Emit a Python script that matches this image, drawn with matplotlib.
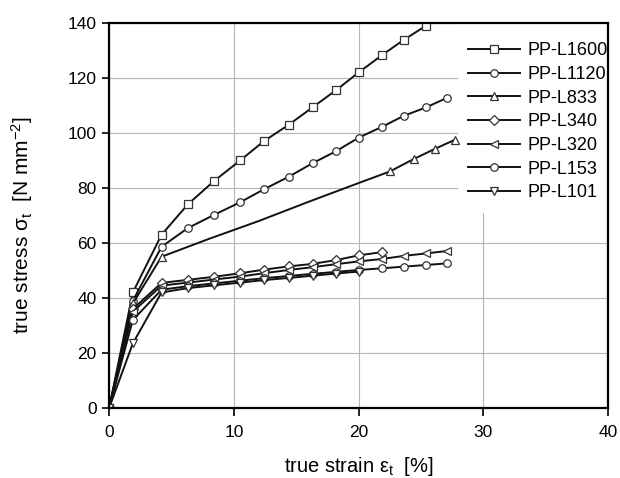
import matplotlib
matplotlib.use("Agg")
import matplotlib.pyplot as plt
from matplotlib.patches import Rectangle

plt.rcParams['font.family'] = ['Liberation Sans', 'DejaVu Sans']
plt.rcParams['mathtext.default'] = 'regular'

labels = ['PP-L1600', 'PP-L1120', 'PP-L833', 'PP-L340', 'PP-L320', 'PP-L153', 'PP-L101']
markers = ['s', 'o', '^', 'D', '<', 'o', 'v']

x_1600 = [0, 1.9, 4.2, 6.3, 8.4, 10.5, 12.4, 14.4, 16.3, 18.2, 20.0, 21.9, 23.6, 25.4]
y_1600 = [0, 42, 63, 74, 82.5, 90, 97, 103, 109.3, 115.6, 122, 128.4, 133.8, 139]

x_1120 = [0, 1.9, 4.2, 6.3, 8.4, 10.5, 12.4, 14.4, 16.3, 18.2, 20.0, 21.9, 23.6, 25.4, 27.1]
y_1120 = [0, 39, 58.6, 65.4, 70.2, 74.8, 79.5, 84.1, 89, 93.4, 98.3, 102.3, 106.2, 109.3, 112.8]

x_833 = [0, 1.9, 4.2, 8.0, 12.0, 16.0, 20.0, 22.5, 24.4, 26.1, 27.7]
y_833 = [0, 38, 55, 61.5, 68, 75, 81.8, 86, 90.5, 94.2, 97.5]
mark_833 = [0, 1, 2, 7, 8, 9, 10]

x_340 = [0, 1.9, 4.2, 6.3, 8.4, 10.5, 12.4, 14.4, 16.3, 18.2, 20.0, 21.9]
y_340 = [0, 36, 45.5, 46.6, 47.7, 49, 50.3, 51.5, 52.4, 53.8, 55.5, 56.7]

x_320 = [0, 1.9, 4.2, 6.3, 8.4, 10.5, 12.4, 14.4, 16.3, 18.2, 20.0, 21.9, 23.6, 25.4, 27.1]
y_320 = [0, 35, 44.5, 45.6, 46.7, 47.8, 49, 50.2, 51.2, 52.3, 53.3, 54.2, 55.3, 56.2, 57.1]

x_153 = [0, 1.9, 4.2, 6.3, 8.4, 10.5, 12.4, 14.4, 16.3, 18.2, 20.0, 21.9, 23.6, 25.4, 27.1]
y_153 = [0, 32, 43, 44.3, 45.3, 46.3, 47.2, 48, 48.8, 49.5, 50.2, 50.8, 51.4, 52, 52.6]

x_101 = [0, 1.9, 4.2, 6.3, 8.4, 10.5, 12.4, 14.4, 16.3, 18.2, 20.0]
y_101 = [0, 23.5, 42, 43.6, 44.6, 45.6, 46.5, 47.3, 48.1, 48.9, 49.6]

series = [(x_1600, y_1600, None), (x_1120, y_1120, None), (x_833, y_833, mark_833),
          (x_340, y_340, None), (x_320, y_320, None), (x_153, y_153, None),
          (x_101, y_101, None)]

x_ticks = [0, 10, 20, 30, 40]
y_ticks = [0, 20, 40, 60, 80, 100, 120, 140]

fig = plt.figure(figsize=(6.2, 4.78), dpi=100)
ax = fig.add_axes([0.176, 0.1464, 0.805, 0.8056])

for (xs, ys, me), lab, m in zip(series, labels, markers):
    ax.plot(xs, ys, color='#111111', lw=1.4, marker=m, markersize=5.4,
            markerfacecolor='white', markeredgecolor='#333333', markeredgewidth=0.9,
            markevery=me, label=lab, zorder=3)

# white background patch behind the legend (hides the grid there)
ax.add_patch(Rectangle((0.699, 0.506), 0.301, 0.494, transform=ax.transAxes,
                       facecolor='white', edgecolor='none', zorder=1))

ax.set_xlim(0, 40)
ax.set_ylim(0, 140)
ax.set_xticks(x_ticks)
ax.set_yticks(y_ticks)
ax.grid(True, color='#b5b5b5', lw=0.8)
ax.set_axisbelow(True)
for s in ax.spines.values():
    s.set_linewidth(1.6)
    s.set_zorder(4)
ax.tick_params(direction='out', length=5, width=1.2, labelsize=12.5)
ax.tick_params(axis='x', pad=6, length=6)
ax.tick_params(axis='y', pad=4)

ax.set_xlabel(r'true strain ε$_t$  [%]', fontsize=14.5)
ax.xaxis.set_label_coords(0.5, -0.122)
ax.set_ylabel(r'true stress σ$_t$  [N mm$^{-2}$]', fontsize=15)
ax.yaxis.set_label_coords(-0.148, 0.475)

leg = ax.legend(loc='upper left', bbox_to_anchor=(0.719, 0.95), borderaxespad=0,
                fontsize=13, frameon=False,
                handlelength=2.9, handletextpad=0.4, labelspacing=0.37,
                borderpad=0)

fig.savefig('out.png', dpi=100)
